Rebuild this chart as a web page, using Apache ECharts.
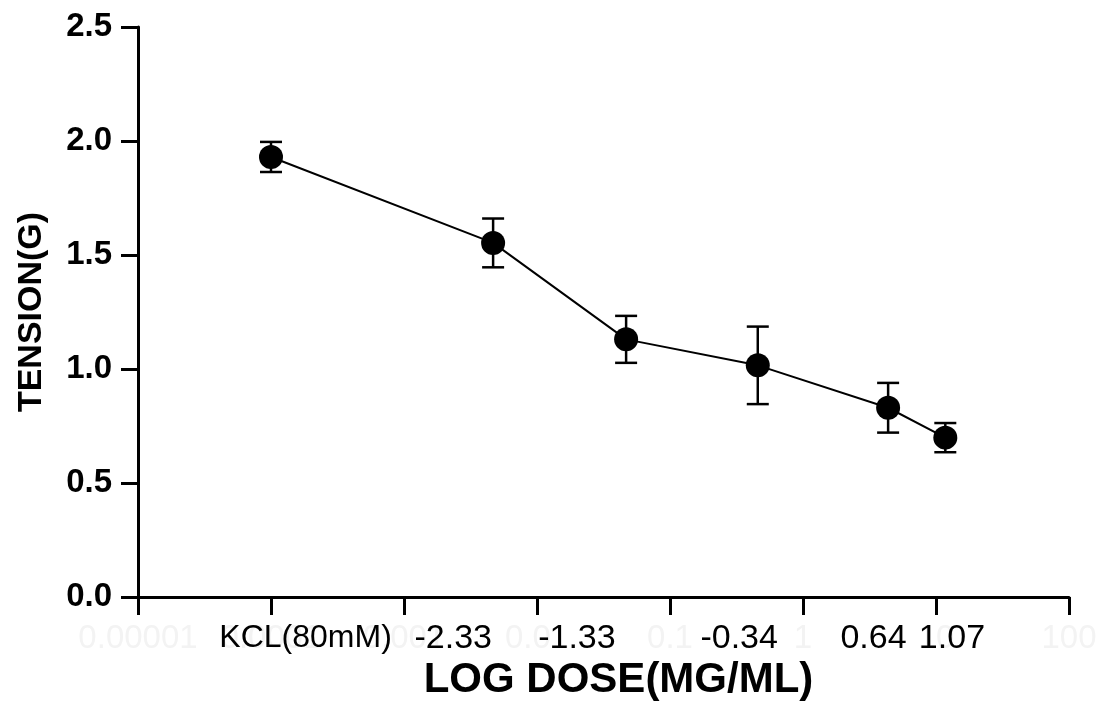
<!DOCTYPE html>
<html>
<head>
<meta charset="utf-8">
<script src="https://cdn.jsdelivr.net/npm/echarts@6/dist/echarts.min.js"></script>
<style>
  html, body { margin: 0; padding: 0; background: #fff; }
  #chart { width: 1102px; height: 711px; }
</style>
</head>
<body>
<div id="chart"></div>
<script>
// log10 dose of each point (first one is the KCL reference)
const logDose = [-4, -2.33, -1.33, -0.34, 0.64, 1.07];
const doseLabels = ['KCL(80mM)', '-2.33', '-1.33', '-0.34', '0.64', '1.07'];
// where the dose labels sit along the axis (log units), they are not centred on the points
const labelAnchor = [-3.74, -2.63, -1.70, -0.48, 0.53, 1.12];
const tension = [1.93, 1.553, 1.13, 1.016, 0.83, 0.699];
const sem = [0.066, 0.107, 0.103, 0.17, 0.109, 0.064];
// faint tick labels of the underlying log axis
const tickLabels = ['0.00001', '0.0001', '0.001', '0.01', '0.1', '1', '10', '100'];

const FONT = '"Liberation Sans", Arial, Helvetica, sans-serif';
const chart = echarts.init(document.getElementById('chart'));

const points = logDose.map((x, i) => [x, tension[i]]);
const bars = logDose.map((x, i) => [x, tension[i], sem[i]]);

const option = {
  backgroundColor: '#fff',
  animation: false,
  grid: { left: 138, right: 33, top: 27, bottom: 114, outerBoundsMode: 'none', containLabel: false },
  xAxis: [{
    type: 'value',
    min: -5,
    max: 2,
    interval: 1,
    position: 'bottom',
    name: 'LOG DOSE(MG/ML)',
    nameLocation: 'middle',
    nameGap: 55,
    nameTextStyle: { fontFamily: FONT, fontWeight: 'bold', fontSize: 42, color: '#000', padding: [0, 0, 0, 30] },
    axisLine: { show: true, onZero: false, lineStyle: { color: '#000', width: 3 } },
    axisTick: { show: true, length: 18, lineStyle: { color: '#000', width: 3 } },
    splitLine: { show: false },
    axisLabel: {
      margin: 25,
      fontFamily: FONT,
      fontSize: 33,
      color: '#f3f3f3',
      formatter: v => tickLabels[Math.round(v + 5)]
    }
  }, {
    type: 'value',
    min: -5,
    max: 2,
    position: 'bottom',
    axisLine: { show: false, onZero: false },
    axisTick: { show: false },
    splitLine: { show: false },
    axisLabel: {
      margin: 25,
      fontFamily: FONT,
      fontSize: 34,
      color: '#000',
      customValues: labelAnchor,
      formatter: v => {
        const i = labelAnchor.indexOf(v);
        return i === 0 ? '{k|' + doseLabels[i] + '}' : doseLabels[i];
      },
      rich: { k: { fontFamily: FONT, fontSize: 32, color: '#000' } }
    }
  }],
  yAxis: {
    type: 'value',
    min: 0,
    max: 2.5,
    interval: 0.5,
    name: 'TENSION(G)',
    nameLocation: 'middle',
    nameGap: 89,
    nameTextStyle: { fontFamily: FONT, fontWeight: 'bold', fontSize: 34, color: '#000' },
    axisLine: { show: true, onZero: false, lineStyle: { color: '#000', width: 3 } },
    axisTick: { show: true, length: 17, lineStyle: { color: '#000', width: 3 } },
    splitLine: { show: false },
    axisLabel: {
      margin: 26,
      fontFamily: FONT,
      fontWeight: 'bold',
      fontSize: 33,
      color: '#000',
      formatter: v => v.toFixed(1)
    }
  },
  series: [{
    type: 'custom',
    xAxisIndex: 0,
    data: bars,
    z: 2,
    renderItem: (params, api) => {
      const x = api.value(0);
      const m = api.value(1);
      const e = api.value(2);
      const top = api.coord([x, m + e]);
      const bot = api.coord([x, m - e]);
      const half = 11;
      const style = { stroke: '#000', lineWidth: 2.5 };
      return {
        type: 'group',
        children: [
          { type: 'line', shape: { x1: top[0], y1: top[1], x2: bot[0], y2: bot[1] }, style },
          { type: 'line', shape: { x1: top[0] - half, y1: top[1], x2: top[0] + half, y2: top[1] }, style },
          { type: 'line', shape: { x1: bot[0] - half, y1: bot[1], x2: bot[0] + half, y2: bot[1] }, style }
        ]
      };
    }
  }, {
    type: 'line',
    xAxisIndex: 0,
    data: points,
    z: 3,
    symbol: 'circle',
    symbolSize: 24,
    itemStyle: { color: '#000' },
    lineStyle: { color: '#000', width: 2 }
  }]
};

chart.setOption(option);
</script>
</body>
</html>
